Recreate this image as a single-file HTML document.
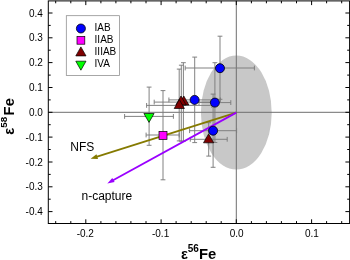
<!DOCTYPE html>
<html><head><meta charset="utf-8"><title>plot</title><style>html,body{margin:0;padding:0;background:#fff}body{width:350px;height:260px;overflow:hidden}</style></head><body>
<svg width="350" height="260" viewBox="0 0 350 260" style="display:block">
<rect width="350" height="260" fill="#fff"/>
<ellipse cx="236.3" cy="112.6" rx="35.4" ry="57.0" fill="#c8c8c8"/>
<g stroke="#6e6e6e" stroke-width="1" fill="none">
<line x1="48.3" y1="112.3" x2="349.6" y2="112.3"/>
<line x1="236.3" y1="0.9" x2="236.3" y2="223.5"/>
</g>
<g stroke="#7b7b7b" stroke-width="0.95" fill="none">
<path d="M220.0 36.2V99.3M217.6 36.2h4.8M217.6 99.3h4.8M185.2 68.0H254.4M185.2 65.6v4.8M254.4 65.6v4.8"/>
<path d="M194.7 57.1V142.6M192.3 57.1h4.8M192.3 142.6h4.8M168.9 99.9H220.4M168.9 97.5v4.8M220.4 97.5v4.8"/>
<path d="M214.9 62.7V142.5M212.5 62.7h4.8M212.5 142.5h4.8M199.0 102.6H230.8M199.0 100.2v4.8M230.8 100.2v4.8"/>
<path d="M213.1 94.1V167.3M210.7 94.1h4.8M210.7 167.3h4.8M189.6 130.7H236.6M189.6 128.3v4.8M236.6 128.3v4.8"/>
<path d="M208.7 122.7V156.1M206.3 122.7h4.8M206.3 156.1h4.8M190.3 139.3H227.2M190.3 136.9v4.8M227.2 136.9v4.8"/>
<path d="M149.1 87.1V145.3M146.7 87.1h4.8M146.7 145.3h4.8M124.6 116.4H173.4M124.6 114.0v4.8M173.4 114.0v4.8"/>
<path d="M163.0 90.6V179.8M160.6 90.6h4.8M160.6 179.8h4.8M146.1 135.0H179.2M146.1 132.6v4.8M179.2 132.6v4.8"/>
<path d="M179.2 69.1V140.9M176.8 69.1h4.8M176.8 140.9h4.8M146.6 105.4H211.8M146.6 103.0v4.8M211.8 103.0v4.8"/>
<path d="M181.3 65.2V141.2M178.9 65.2h4.8M178.9 141.2h4.8M178.9 102.1H183.7M178.9 99.7v4.8M183.7 99.7v4.8"/>
<path d="M183.4 62.7V141.1M181.0 62.7h4.8M181.0 141.1h4.8M154.2 102.1H212.6M154.2 99.7v4.8M212.6 99.7v4.8"/>
</g>
<line x1="236.3" y1="112.6" x2="96.3" y2="156.9" stroke="#857a00" stroke-width="1.8"/>
<polygon points="90.6,158.7 96.5,154.3 98.0,158.9" fill="#857a00"/>
<line x1="236.3" y1="112.6" x2="112.6" y2="180.5" stroke="#9a00ff" stroke-width="1.8"/>
<polygon points="107.3,183.4 112.3,177.9 114.6,182.1" fill="#9a00ff"/>
<polygon points="183.8,96.0 188.9,105.0 178.7,105.0" fill="#800000" stroke="#000" stroke-width="0.7"/>
<polygon points="181.0,96.0 186.1,105.0 175.9,105.0" fill="#800000" stroke="#000" stroke-width="0.7"/>
<polygon points="179.3,99.5 184.4,108.5 174.2,108.5" fill="#800000" stroke="#000" stroke-width="0.7"/>
<circle cx="194.6" cy="99.9" r="4.5" fill="#0000ff" stroke="#000" stroke-width="0.8"/>
<circle cx="214.9" cy="102.6" r="4.5" fill="#0000ff" stroke="#000" stroke-width="0.8"/>
<circle cx="220.0" cy="68.2" r="4.5" fill="#0000ff" stroke="#000" stroke-width="0.8"/>
<polygon points="208.6,133.9 213.7,142.8 203.5,142.8" fill="#800000" stroke="#000" stroke-width="0.7"/>
<circle cx="213.1" cy="130.7" r="4.5" fill="#0000ff" stroke="#000" stroke-width="0.8"/>
<polygon points="149.0,122.4 154.1,113.5 143.9,113.5" fill="#00ff00" stroke="#000" stroke-width="0.7"/>
<rect x="159.0" y="131.4" width="8.0" height="8.0" fill="#ff00ff" stroke="#000" stroke-width="0.7"/>
<rect x="48.3" y="0.9" width="301.3" height="222.6" fill="none" stroke="#000" stroke-width="1"/>
<path d="M55.7 223.5v-2.4M55.7 0.9v2.4M70.8 223.5v-2.4M70.8 0.9v2.4M85.8 223.5v-4.2M85.8 0.9v4.2M100.9 223.5v-2.4M100.9 0.9v2.4M115.9 223.5v-2.4M115.9 0.9v2.4M130.9 223.5v-2.4M130.9 0.9v2.4M146.0 223.5v-2.4M146.0 0.9v2.4M161.1 223.5v-4.2M161.1 0.9v4.2M176.1 223.5v-2.4M176.1 0.9v2.4M191.2 223.5v-2.4M191.2 0.9v2.4M206.2 223.5v-2.4M206.2 0.9v2.4M221.2 223.5v-2.4M221.2 0.9v2.4M236.3 223.5v-4.2M236.3 0.9v4.2M251.4 223.5v-2.4M251.4 0.9v2.4M266.4 223.5v-2.4M266.4 0.9v2.4M281.4 223.5v-2.4M281.4 0.9v2.4M296.5 223.5v-2.4M296.5 0.9v2.4M311.6 223.5v-4.2M311.6 0.9v4.2M326.6 223.5v-2.4M326.6 0.9v2.4M341.7 223.5v-2.4M341.7 0.9v2.4M48.3 211.6h4.2M349.6 211.6h-4.2M48.3 199.2h2.4M349.6 199.2h-2.4M48.3 186.8h4.2M349.6 186.8h-4.2M48.3 174.4h2.4M349.6 174.4h-2.4M48.3 162.0h4.2M349.6 162.0h-4.2M48.3 149.5h2.4M349.6 149.5h-2.4M48.3 137.1h4.2M349.6 137.1h-4.2M48.3 124.7h2.4M349.6 124.7h-2.4M48.3 112.3h4.2M349.6 112.3h-4.2M48.3 99.9h2.4M349.6 99.9h-2.4M48.3 87.5h4.2M349.6 87.5h-4.2M48.3 75.1h2.4M349.6 75.1h-2.4M48.3 62.6h4.2M349.6 62.6h-4.2M48.3 50.2h2.4M349.6 50.2h-2.4M48.3 37.8h4.2M349.6 37.8h-4.2M48.3 25.4h2.4M349.6 25.4h-2.4M48.3 13.0h4.2M349.6 13.0h-4.2" stroke="#000" stroke-width="1" fill="none"/>
<g font-family="Liberation Sans, Arial, sans-serif" font-size="10" fill="#000">
<text x="42.8" y="215.2" text-anchor="end">-0.4</text>
<text x="42.8" y="190.4" text-anchor="end">-0.3</text>
<text x="42.8" y="165.6" text-anchor="end">-0.2</text>
<text x="42.8" y="140.7" text-anchor="end">-0.1</text>
<text x="42.8" y="115.9" text-anchor="end">0.0</text>
<text x="42.8" y="91.1" text-anchor="end">0.1</text>
<text x="42.8" y="66.2" text-anchor="end">0.2</text>
<text x="42.8" y="41.4" text-anchor="end">0.3</text>
<text x="42.8" y="16.6" text-anchor="end">0.4</text>
<text x="85.3" y="237.3" text-anchor="middle">-0.2</text>
<text x="160.6" y="237.3" text-anchor="middle">-0.1</text>
<text x="236.6" y="237.3" text-anchor="middle">0.0</text>
<text x="311.9" y="237.3" text-anchor="middle">0.1</text>
</g>
<rect x="66.3" y="15.7" width="53.1" height="59.9" fill="#fff" stroke="#8a8a8a" stroke-width="0.75"/>
<circle cx="80.9" cy="28.5" r="4.5" fill="#0000ff" stroke="#000" stroke-width="0.8"/>
<rect x="77.0" y="36.4" width="7.8" height="7.8" fill="#ff00ff" stroke="#000" stroke-width="0.7"/>
<polygon points="80.9,46.9 86.0,55.9 75.8,55.9" fill="#800000" stroke="#000" stroke-width="0.7"/>
<polygon points="80.9,70.2 86.0,61.2 75.8,61.2" fill="#00ff00" stroke="#000" stroke-width="0.7"/>
<g font-family="Liberation Sans, Arial, sans-serif" font-size="10" fill="#000">
<text x="94.6" y="31.2">IAB</text>
<text x="94.6" y="42.8">IIAB</text>
<text x="94.6" y="54.5">IIIAB</text>
<text x="94.6" y="67.4">IVA</text>
<text x="70.3" y="150.5" font-size="12">NFS</text>
<text x="81.5" y="200.1" font-size="12">n-capture</text>
</g>
<g font-family="Liberation Sans, Arial, sans-serif" font-weight="bold" fill="#000">
<text x="181.0" y="258.8" font-size="14.6">ε</text>
<text x="187.8" y="252.3" font-size="10">56</text>
<text x="199.0" y="258.8" font-size="14.8">Fe</text>
<g transform="translate(14.0,134.7) rotate(-90)"><text x="0" y="0" font-size="14.6">ε</text><text x="7.0" y="-6.6" font-size="9.8">58</text><text x="19.3" y="0" font-size="14.8">Fe</text></g>
</g>
</svg>
</body></html>
